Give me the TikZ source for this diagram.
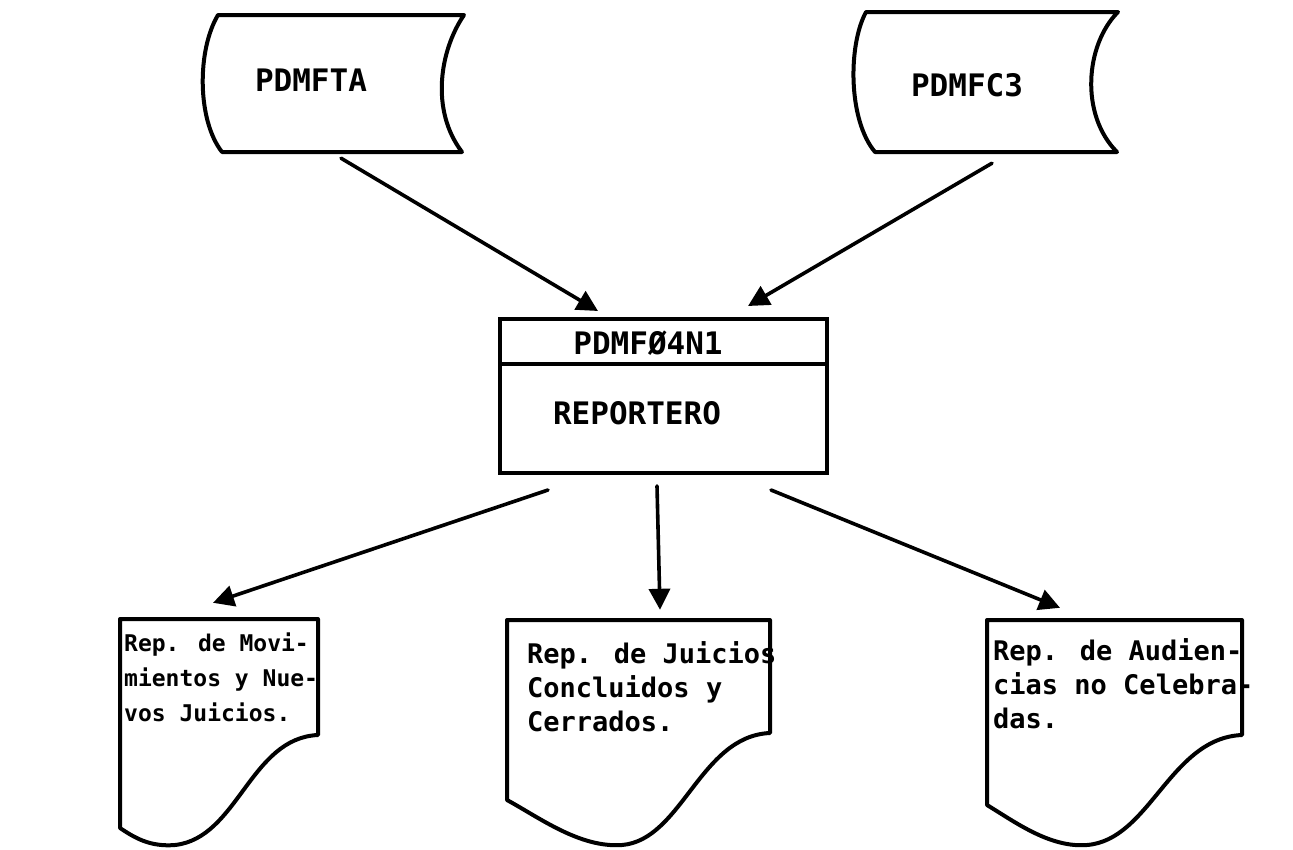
\documentclass[tikz,border=0pt]{standalone}
\usepackage{fontspec}
\newfontfamily\mono{DejaVu Sans Mono}
\usetikzlibrary{arrows.meta}
\tikzset{
  outline/.style={line width=4pt, line join=round, line cap=round},
  holder/.style={draw=none, inner sep=0pt, rectangle},
  bigtxt/.style={font=\mono\bfseries\fontsize{31}{35}\selectfont, inner sep=0pt},
  doctxt/.style={align=left, anchor=north west, inner sep=0pt},
  arr/.style={line width=3.6pt, line cap=round, -{Triangle[length=21pt,width=21pt]}}
}
\begin{document}
\begin{tikzpicture}[x=1pt,y=-1pt]
\useasboundingbox (0,0) rectangle (1293,849);
\fill[white] (0,0) rectangle (1293,849);

% storage 1
\node[holder, minimum width=254pt, minimum height=137pt] (fta) at (337,83.5) {};
\draw[outline] (218,15) -- (464,15)
  .. controls (440,50) and (430,110) .. (462,152)
  -- (222,152)
  .. controls (197,120) and (197,50) .. cycle;
\node[bigtxt] (ftat) at (311,80) {PDMFTA};

% storage 2
\node[holder, minimum width=266pt, minimum height=140pt] (fc3) at (985,82) {};
\draw[outline] (866,12) -- (1118,12)
  .. controls (1085,45) and (1080,115) .. (1117,152)
  -- (875,152)
  .. controls (848,120) and (848,45) .. cycle;
\node[bigtxt] (fc3t) at (967,85) {PDMFC3};

% process
\node[holder, draw, line width=4pt, minimum width=327pt, minimum height=154pt] (proc) at (663.5,396) {};
\draw[line width=4pt] ([yshift=-47pt]proc.north west) -- ([yshift=-47pt]proc.north east);
\node[bigtxt] (pname) at (648,343) {PDMFØ4N1};
\node[bigtxt] (pdesc) at (637,413) {REPORTERO};

% documents
\node[holder, minimum width=198pt, minimum height=226pt] (d1) at (219,732) {};
\draw[outline] (120,619) -- (318,619) -- (318,735)
  .. controls (250,738) and (238,838) .. (175,845)
  .. controls (150,847) and (135,838) .. (120,828) -- cycle;
\node[doctxt, font=\mono\bfseries\fontsize{23}{35}\selectfont] (d1t) at (124,633)
  {Rep. de Movi-\\mientos y Nue-\\vos Juicios.};

\node[holder, minimum width=263pt, minimum height=225pt] (d2) at (638.5,732.5) {};
\draw[outline] (507,620) -- (770,620) -- (770,733)
  .. controls (700,736) and (682,840) .. (622,845)
  .. controls (580,848) and (540,818) .. (507,800) -- cycle;
\node[doctxt, font=\mono\bfseries\fontsize{27}{34}\selectfont] (d2t) at (527,641)
  {Rep. de Juicios\\Concluidos y\\Cerrados.};

\node[holder, minimum width=255pt, minimum height=225pt] (d3) at (1114.5,732.5) {};
\draw[outline] (987,620) -- (1242,620) -- (1242,735)
  .. controls (1170,738) and (1150,840) .. (1087,845)
  .. controls (1050,848) and (1015,822) .. (987,805) -- cycle;
\node[doctxt, font=\mono\bfseries\fontsize{27}{34}\selectfont] (d3t) at (993,638)
  {Rep. de Audien-\\cias no Celebra-\\das.};

% connectors
\draw[arr] ([xshift=4pt,yshift=-6pt]fta.south) -- ([xshift=-65.5pt,yshift=6pt]proc.north);
\draw[arr] ([xshift=7pt,yshift=-11pt]fc3.south) -- ([xshift=84.5pt,yshift=11pt]proc.north);
\draw[arr] ([xshift=-115.5pt,yshift=-15pt]proc.south) -- ([xshift=-6pt,yshift=16pt]d1.north);
\draw[arr] ([xshift=-6.5pt,yshift=-11pt]proc.south) -- ([xshift=21.5pt,yshift=10pt]d2.north);
\draw[arr] ([xshift=107.5pt,yshift=-15pt]proc.south) -- ([xshift=-54.5pt,yshift=12pt]d3.north);
\end{tikzpicture}
\end{document}
